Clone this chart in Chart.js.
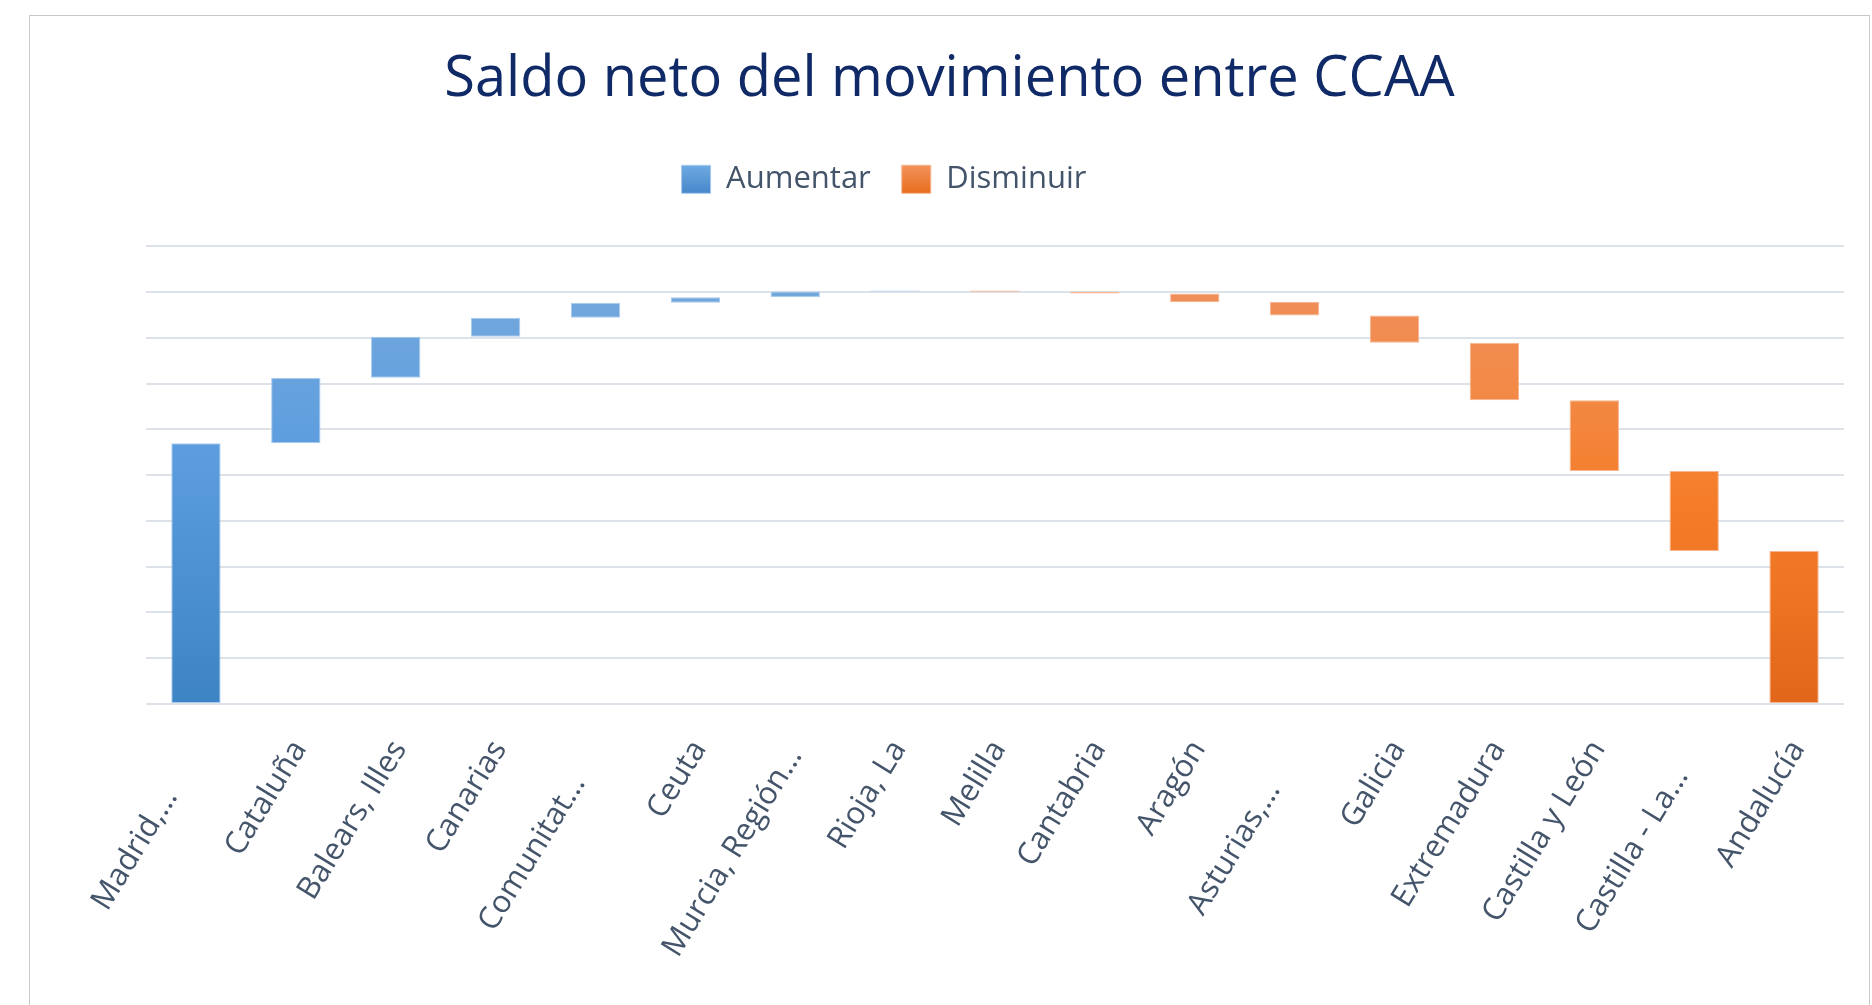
<!DOCTYPE html>
<html>
<head>
<meta charset="utf-8">
<script src="https://cdn.jsdelivr.net/npm/chart.js@4.4.1/dist/chart.umd.min.js"></script>
<style>
  html, body { margin: 0; padding: 0; background: #ffffff; overflow: hidden; }
  #wrap { position: absolute; left: 0; top: 0; width: 1872px; height: 1005px; }
  #frame { position: absolute; left: 29px; top: 15px; width: 1841px; height: 1200px;
           border: 1px solid #c8c8c8; box-sizing: border-box; pointer-events: none; }
</style>
</head>
<body>
<div id="wrap"><canvas id="chart" width="1872" height="1005"></canvas></div>
<div id="frame"></div>
<script>
// Comunidades autónomas, ordered as in the waterfall
const categories = [
  'Madrid,…', 'Cataluña', 'Balears, Illes', 'Canarias', 'Comunitat…', 'Ceuta',
  'Murcia, Región…', 'Rioja, La', 'Melilla', 'Cantabria', 'Aragón', 'Asturias,…',
  'Galicia', 'Extremadura', 'Castilla y León', 'Castilla - La…', 'Andalucía'
];

// Net balance of movements between regions (persons)
const netBalance = [
  5698, 1432, 894, 414, 327, 124,
  124, 22, -30, -35, -189, -291,
  -596, -1257, -1548, -1744, -3345
];

const seriesNames = ['Aumentar', 'Disminuir'];

// Value axis (gridlines only, no tick labels)
const axisMin = 0;
const axisMax = 10000;
const axisStep = 1000;

// Running totals -> floating [start, end] bars for each series
const increaseBars = [];
const decreaseBars = [];
let running = 0;
netBalance.forEach(v => {
  const start = running;
  running += v;
  if (v >= 0) { increaseBars.push([start, running]); decreaseBars.push(null); }
  else { increaseBars.push(null); decreaseBars.push([running, start]); }
});

const TEXT = '#44546a';
const FONT = '"Open Sans", "Noto Sans", sans-serif';
const LABEL_SIZE = 31;
const TRUNC_BOX = 250;

const blueStops = [[0, '#7aabdc'], [0.45, '#5c9ddf'], [1, '#3d84c4']];
const orangeStops = [[0, '#ef9062'], [0.3, '#f28a48'], [0.55, '#f57d29'], [0.75, '#ee7523'], [1, '#e1661a']];

function areaGradient(chart, stops) {
  const area = chart.chartArea;
  if (!area || !isFinite(area.top) || !isFinite(area.bottom)) return stops[Math.floor(stops.length / 2)][1];
  const g = chart.ctx.createLinearGradient(0, area.top, 0, area.bottom);
  stops.forEach(([o, c]) => g.addColorStop(o, c));
  return g;
}

// Truncated labels sit centred in a fixed-length label slot
const measureCtx = document.createElement('canvas').getContext('2d');
function slotLabel(label) {
  if (!label.endsWith('…')) return label;
  measureCtx.font = LABEL_SIZE + 'px ' + FONT;
  const w = measureCtx.measureText(label).width;
  const sp = measureCtx.measureText(' ').width;
  const n = Math.max(0, Math.round((TRUNC_BOX - w) / 2 / sp));
  return label + ' '.repeat(n);
}

// Places the legend block to the left of the title axis
const legendPlacement = {
  id: 'legendPlacement',
  afterLayout(chart) {
    const lg = chart.legend;
    if (!lg) return;
    const dx = -65.5, dy = -41.5;
    lg.left += dx; lg.right += dx;
    lg.top += dy; lg.bottom += dy;
  }
};

const legendSwatches = [
  [[0, '#6eaae2'], [1, '#4787ca']],
  [[0, '#f3925c'], [1, '#e76d1d']]
];

const canvas = document.getElementById('chart');
new Chart(canvas, {
  type: 'bar',
  data: {
    labels: categories,
    datasets: [
      {
        label: seriesNames[0],
        data: increaseBars,
        backgroundColor: c => areaGradient(c.chart, blueStops),
        borderColor: '#a9cbee',
        borderWidth: 1,
        borderSkipped: false,
        grouped: false,
        barPercentage: 0.494,
        categoryPercentage: 1
      },
      {
        label: seriesNames[1],
        data: decreaseBars,
        backgroundColor: c => areaGradient(c.chart, orangeStops),
        borderColor: '#f7b590',
        borderWidth: 1,
        borderSkipped: false,
        grouped: false,
        barPercentage: 0.494,
        categoryPercentage: 1
      }
    ]
  },
  options: {
    responsive: false,
    animation: false,
    devicePixelRatio: 1,
    layout: { padding: { left: 55, right: 28, top: 0, bottom: 0 } },
    plugins: {
      title: {
        display: true,
        text: 'Saldo neto del movimiento entre CCAA',
        color: '#0f2a66',
        font: { family: FONT, size: 56, weight: 'normal' },
        padding: { top: 46, bottom: 61.1 }
      },
      legend: {
        display: true,
        position: 'top',
        labels: {
          color: TEXT,
          font: { family: FONT, size: 31 },
          boxWidth: 29,
          boxHeight: 28,
          padding: 31,
          generateLabels(chart) {
            const items = Chart.defaults.plugins.legend.labels.generateLabels(chart);
            const lg = chart.legend;
            const top = lg && isFinite(lg.top) ? lg.top : 133;
            const y0 = top + 31 + 1.5;
            items.forEach((it, i) => {
              const g = chart.ctx.createLinearGradient(0, y0, 0, y0 + 28);
              legendSwatches[i].forEach(([o, c]) => g.addColorStop(o, c));
              it.fillStyle = g;
              it.strokeStyle = i === 0 ? '#a9cbee' : '#f7b590';
              it.lineWidth = 1;
            });
            return items;
          }
        }
      },
      tooltip: { enabled: false }
    },
    scales: {
      x: {
        grid: { display: false, drawTicks: false },
        border: { display: false },
        ticks: {
          color: TEXT,
          font: { family: FONT, size: LABEL_SIZE },
          minRotation: 58.5,
          maxRotation: 58.5,
          autoSkip: false,
          padding: 30,
          labelOffset: 4,
          callback(value) { return slotLabel(this.getLabelForValue(value)); }
        },
        afterFit(scale) { scale.height = 301; }
      },
      y: {
        min: axisMin,
        max: axisMax,
        ticks: { display: false, stepSize: axisStep },
        grid: { color: '#dde1e8', lineWidth: 2, drawTicks: false },
        border: { display: false },
        afterFit(scale) { scale.width = 91; }
      }
    }
  },
  plugins: [legendPlacement]
});
</script>
</body>
</html>
